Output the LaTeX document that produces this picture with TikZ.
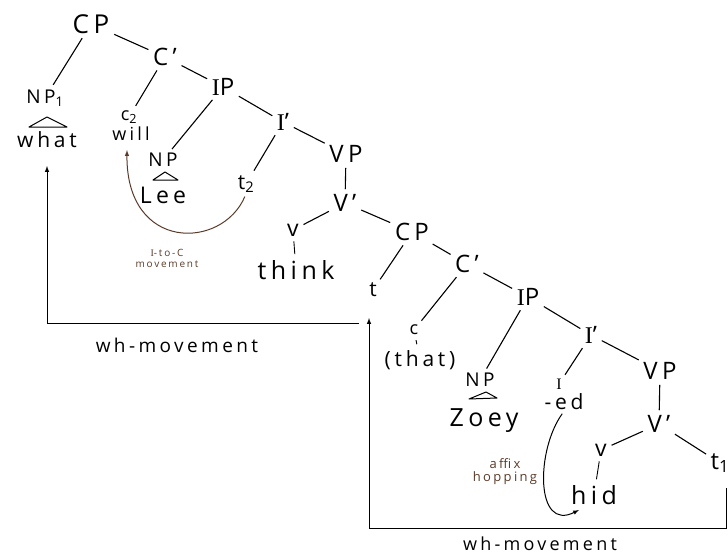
\documentclass[tikz,border=0pt]{standalone}
\usepackage{fontspec}
\setmainfont{Open Sans}[LetterSpace=18]
\newfontfamily\serifI{Liberation Serif}
\newcommand\capI{{\serifI I}}
\usepackage{tikz}
\usetikzlibrary{arrows.meta}
\definecolor{penbrown}{HTML}{5B3A29}

\begin{document}
\begin{tikzpicture}[x=1pt,y=-1pt,
          cat/.style={inner sep=1pt,font=\fontsize{24}{26}\selectfont},
          sml/.style={inner sep=1pt,font=\fontsize{18}{20}\selectfont},
          lex/.style={inner sep=1pt,font=\fontsize{21}{23}\selectfont},
          big/.style={inner sep=1pt,font=\fontsize{25}{27}\selectfont},
          note/.style={inner sep=0pt,align=center,text=penbrown},
          edge/.style={line width=1.1pt,shorten <=4pt,shorten >=4pt},
          tick/.style={line width=0.9pt,shorten <=4pt,shorten >=5pt},
          tri/.style={line width=1pt,line join=round},
          mv/.style={line width=1pt,->,>=latex}]
          \useasboundingbox (0,0) rectangle (728,555);
          \node[cat,font=\fontsize{26}{28}\selectfont](cp1) at (91,24){CP};
          \node[cat](cb1) at (165,57){C'};
          \node[sml,font=\fontsize{19}{21}\selectfont](np1) at (45,98){NP\textsubscript{1}};
          \node[lex](what) at (47,140){what};
          \node[cat](ip1) at (223,87){\capI P};
          \node[sml](c2) at (129,117){c\textsubscript{2}};
          \node[lex,font=\fontsize{18}{20}\selectfont](will) at (131,134){will};
          \node[sml,font=\fontsize{19}{21}\selectfont](np2) at (163,160){NP};
          \node[lex,font=\fontsize{23}{25}\selectfont](lee) at (163,195){Lee};
          \node[cat](ib1) at (283,122){\capI'};
          \node[lex](t2) at (246,184){t\textsubscript{2}};
          \node[cat](vp1) at (346,154){VP};
          \node[cat](vb1) at (345,203){V'};
          \node[sml,font=\fontsize{23}{25}\selectfont](v1) at (293,230){v};
          \node[big](think) at (296,270){think};
          \node[cat](cp2) at (412,232){CP};
          \node[lex](t) at (373,290){t};
          \node[cat](cb2) at (467,264){C'};
          \node[cat](ip2) at (528,297){\capI P};
          \node[sml](c) at (414,330){c};
          \node[lex](that) at (420,360){(that)};
          \node[cat](ib2) at (591,335){\capI'};
          \node[sml,font=\fontsize{19}{21}\selectfont](np3) at (480,380){NP};
          \node[big](zoey) at (484,421){Zoey};
          \node[sml,font=\fontsize{16}{18}\selectfont](i) at (559,384){\capI};
          \node[lex](ed) at (564,402){-ed};
          \node[cat](vp2) at (660,371){VP};
          \node[cat](vb2) at (659,424){V'};
          \node[sml,font=\fontsize{23}{25}\selectfont](v2) at (601,450){v};
          \node[big](hid) at (594,495){hid};
          \node[big,font=\fontsize{24}{26}\selectfont](t1) at (720,463){t\textsubscript{1}};
          \node[note,font=\fontsize{10}{11}\selectfont](itoc) at (167,258){\capI-to-C\\movement};
          \node[note,font=\fontsize{13}{13}\selectfont](affix) at (505,472){affix\\hopping};
          \node[lex,font=\fontsize{19}{20}\selectfont](wh1) at (177,345){wh-movement};
          \node[lex,inner sep=0pt,font=\fontsize{18}{19}\selectfont](wh2) at (540,544){wh-movement};
          \draw[edge](cp1)--(np1); \draw[edge](cp1)--(cb1);
          \draw[edge](cb1)--(c2); \draw[edge](cb1)--(ip1);
          \draw[edge](ip1)--(np2); \draw[edge](ip1)--(ib1);
          \draw[edge](ib1)--(t2); \draw[edge](ib1)--(vp1);
          \draw[edge](vp1)--(vb1); \draw[edge](vb1)--(v1);
          \draw[edge](vb1)--(cp2); \draw[edge](cp2)--(t);
          \draw[edge](cp2)--(cb2); \draw[edge](cb2)--(c);
          \draw[edge](cb2)--(ip2); \draw[edge](ip2)--(np3);
          \draw[edge](ip2)--(ib2); \draw[edge](ib2)--(i);
          \draw[edge](ib2)--(vp2); \draw[edge](vp2)--(vb2);
          \draw[edge](vb2)--(v2); \draw[edge](vb2)--(t1);
          \draw[tick](v1)--(think); \draw[tick](c)--(that); \draw[tick](v2)--(hid);
          \draw[tri](47,117)--(29,127)--(67,127)--cycle;
          \draw[tri](165,172)--(153,180)--(178,180)--cycle;
          \draw[tri](486,392)--(469,399)--(497,398)--cycle;
          \coordinate (w1) at (726,488);
          \coordinate (w2) at (369,318);
          \coordinate (w3) at (359,323);
          \coordinate (w4) at (47,166);
          \draw[mv](w1)--++(0,40)-|(w2);
          \draw[mv](w3)-|(w4);
          \draw[mv,penbrown,shorten <=3pt](t2.south)..controls(222,250)and(126,252)..([xshift=-4pt,yshift=-8pt]will.south);
          \draw[mv,shorten <=3pt](ed.south)..controls(536,450)and(535,532)..(579,510);
        \end{tikzpicture}
\end{document}
